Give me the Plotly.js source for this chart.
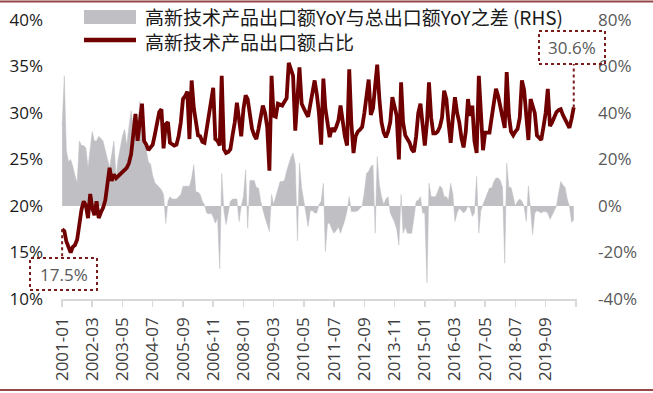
<!DOCTYPE html>
<html>
<head>
<meta charset="utf-8">
<script src="https://cdn.plot.ly/plotly-3.0.1.min.js"></script>
<style>html,body{margin:0;padding:0;background:#fff;}#chart{width:653px;height:393px;}</style>
</head>
<body>
<div id="chart"></div>
<script>
// 高新技术产品出口额占比 (%), monthly from 2001-01
const share = [
17.5,17.3,16.2,15.5,15.0,15.6,15.8,16.4,18.4,19.6,20.5,20.1,
18.7,21.3,19.8,19.0,20.5,18.7,19.3,19.8,20.6,22.5,24.1,22.7,
23.4,23.0,23.2,23.4,23.7,23.9,24.1,24.6,25.6,27.7,29.9,27.0,
28.8,31.0,27.0,26.6,26.0,26.3,26.6,27.7,29.0,30.1,30.4,26.2,
28.8,29.0,26.8,26.6,26.5,26.6,27.5,29.0,31.5,31.8,32.3,27.2,
33.5,30.5,29.0,27.6,27.5,26.9,26.8,28.3,30.0,31.6,32.7,27.2,
27.0,26.5,34.0,26.1,25.7,25.8,26.1,27.6,29.0,31.1,29.5,27.5,
30.4,31.9,31.5,30.0,28.3,27.6,27.2,28.3,29.6,30.8,30.0,28.5,
23.8,34.0,29.7,29.6,31.0,30.9,30.8,31.2,31.6,35.4,34.8,34.0,
28.1,31.5,34.9,31.0,30.4,30.0,29.6,31.0,32.2,33.5,32.0,30.0,
26.6,33.7,30.5,29.0,27.4,28.4,28.0,28.5,29.2,30.8,29.0,27.5,
26.5,34.7,29.0,25.7,27.5,28.0,28.2,28.5,30.0,31.8,33.6,29.8,
30.5,33.0,35.2,31.5,29.0,27.9,27.4,28.0,29.0,31.7,30.5,29.7,
25.0,33.3,29.0,27.6,27.2,26.8,26.1,25.8,27.5,30.0,31.0,28.2,
26.5,29.0,33.3,29.5,27.8,27.8,28.0,28.5,29.5,32.4,31.5,29.0,
26.8,29.5,31.7,30.0,29.0,27.3,26.3,28.0,31.5,29.7,30.8,27.0,
25.7,34.0,29.5,26.0,27.9,27.9,27.9,29.5,30.8,32.6,31.8,30.8,
29.5,28.4,34.4,29.7,28.0,27.6,28.0,28.3,29.5,33.5,32.5,30.0,
27.1,31.5,30.8,30.0,27.6,27.3,27.1,28.5,30.0,32.6,28.6,29.0,
29.7,30.1,30.3,30.4,29.8,29.3,28.8,28.4,29.4,30.6
];

// 高新技术产品出口额YoY与总出口额YoY之差 (%), RHS
const yoyDiff = [
35,56,24,19,20,17,13,10,28,26,26,25,
16.5,26,32,28,28,30,29,28,24,20,16.5,22,
28,12,20,25,30,33,26,34,41,34,33,33,
45,38,34,24,19,18,13,10,9,8,7,5,
-7.5,2,4,3,3,3,4,5,8.5,8.5,8.5,8.5,
12,17.8,6,6,5,2,0.5,-3,-3.4,-3,-4.7,-7.4,
-5,-27,14,-2,-8,-3,2,3,3,3,-6.7,0,
4,15.6,-9.6,11,11,11,8,7.7,2,-2,-5,-8,
-11,5,0.6,4,7.7,10.5,10.5,11,15,18.5,21,22.8,
18,-15,18.5,7.7,2,-5,-8.8,-2,-2,-3,-3,0.6,
2,9.8,-19.6,-7.4,-7.4,-10,-11.7,-10.5,-9,-11.7,-9,-6,
-2,4,-2.4,-2.4,-2.4,-2,-1,0,6,14,15,17,
17.6,-11.7,21.3,9,4,0.6,3,4,-3,-5,-7,-10,
-16.8,5,-11.7,-9,-11.7,-11.7,-11.7,-5,2,2.5,4,-3,
-3,-33,9.8,4,4,4,6,8.6,7.7,4,4,2.5,
9.8,5,-6.7,-3,-1,-2,-3,-2,0,-1,-4.5,-3,
12.7,-11.7,-2,0.6,3,6,7.7,7.7,10.5,12,12,11,
8,-24.6,18.5,8,8,4,0,2,3,2,0,-6.7,
8.6,-2,-12.3,-3,-2,-2.5,-3,-2.4,-2.5,-3,-5.7,-4,
-2,0,5.5,10.5,9,8,3,0,-7,-6
];

const startYear = 2001;
const months = share.map((_, k) => {
  const y = startYear + Math.floor(k / 12);
  const m = (k % 12) + 1;
  return y + '-' + String(m).padStart(2, '0');
});

const xTickLabels = ['2001-01','2002-03','2003-05','2004-07','2005-09','2006-11','2008-01','2009-03',
  '2010-05','2011-07','2012-09','2013-11','2015-01','2016-03','2017-05','2018-07','2019-09'];
const xTickEnd = '2020-11';
const leftTickVals = [10,15,20,25,30,35,40];
const leftTickText = ['10%','15%','20%','25%','30%','35%','40%'];
const rightTickVals = [-40,-20,0,20,40,60,80];
const rightTickText = ['-40%','-20%','0%','20%','40%','60%','80%'];

const nameDiff = '高新技术产品出口额YoY与总出口额YoY之差 (RHS)';
const nameShare = '高新技术产品出口额占比';

// layout geometry (pixels)
const W = 653, H = 393;
const M = {l: 61, r: 76, t: 20, b: 94};
const PW = W - M.l - M.r, PH = H - M.t - M.b;
const px = x => (x - M.l) / PW;
const py = y => (H - M.b - y) / PH;

const red = '#700000';
const gray = '#c0bfc4';
const boxColor = '#7a1c1c';
const borderColor = '#944848';

const traces = [
  {
    x: months, y: yoyDiff, name: nameDiff, type: 'scatter', mode: 'lines',
    fill: 'tozeroy', fillcolor: gray, line: {color: gray, width: 0.5},
    yaxis: 'y', hoverinfo: 'skip'
  },
  {
    x: months, y: share, name: nameShare, type: 'scatter', mode: 'lines',
    line: {color: red, width: 3.8}, yaxis: 'y2', hoverinfo: 'skip'
  }
];

const last = share.length - 1;
const y2FromPx = yPix => 10 + 30 * py(yPix);

const layout = {
  width: W, height: H,
  margin: M,
  paper_bgcolor: '#fff', plot_bgcolor: 'rgba(0,0,0,0)',
  showlegend: false,
  font: {family: 'Open Sans, sans-serif', size: 17, color: '#404040'},
  xaxis: {
    type: 'date',
    range: ['2000-12-16', '2020-11-16'],
    tickvals: xTickLabels.concat([xTickEnd]),
    ticktext: xTickLabels.concat(['']),
    tickangle: -90,
    ticks: 'outside', ticklen: 6, tickwidth: 1.5, tickcolor: '#d9d9d9',
    showline: true, linecolor: '#d9d9d9', linewidth: 1.5,
    showgrid: false, zeroline: false,
    tickfont: {family: 'Open Sans, sans-serif', size: 17, color: '#404040'},
    ticklabelstandoff: 4
  },
  yaxis: {
    side: 'right', range: [-40, 80],
    tickvals: rightTickVals, ticktext: rightTickText,
    showgrid: false, zeroline: false, showline: false, ticks: '',
    tickfont: {family: 'Open Sans, sans-serif', size: 17, color: '#595959'},
    ticklabelstandoff: 20
  },
  yaxis2: {
    overlaying: 'y', side: 'left', range: [10, 40],
    tickvals: leftTickVals, ticktext: leftTickText,
    showgrid: false, zeroline: false, showline: false, ticks: '',
    tickfont: {family: 'Open Sans, sans-serif', size: 17, color: '#1a1a1a'},
    ticklabelstandoff: 17
  },
  shapes: [
    // top / bottom frame lines
    {type: 'line', xref: 'paper', yref: 'paper', x0: px(0), x1: px(W), y0: py(1.5), y1: py(1.5),
     line: {color: borderColor, width: 2}},
    {type: 'line', xref: 'paper', yref: 'paper', x0: px(0), x1: px(W), y0: py(390), y1: py(390),
     line: {color: borderColor, width: 2}},
    // legend symbols
    {type: 'rect', xref: 'paper', yref: 'paper', x0: px(84), x1: px(136), y0: py(24), y1: py(10),
     fillcolor: gray, line: {width: 0}},
    {type: 'line', xref: 'paper', yref: 'paper', x0: px(84), x1: px(136), y0: py(40), y1: py(40),
     line: {color: red, width: 4.5}},
    // callout boxes
    {type: 'rect', xref: 'paper', yref: 'paper', x0: px(30), x1: px(97), y0: py(290), y1: py(258),
     line: {color: boxColor, width: 2, dash: 'dot'}, fillcolor: 'rgba(0,0,0,0)'},
    {type: 'rect', xref: 'paper', yref: 'paper', x0: px(539), x1: px(605), y0: py(64), y1: py(31),
     line: {color: boxColor, width: 2, dash: 'dot'}, fillcolor: 'rgba(0,0,0,0)'},
    // leader lines to first / last points
    {type: 'line', xref: 'x', yref: 'y2', x0: months[0], x1: months[0], y0: share[0], y1: y2FromPx(258),
     line: {color: boxColor, width: 2, dash: 'dot'}},
    {type: 'line', xref: 'x', yref: 'y2', x0: months[last], x1: months[last], y0: share[last], y1: y2FromPx(64),
     line: {color: boxColor, width: 2, dash: 'dot'}}
  ],
  annotations: [
    {xref: 'paper', yref: 'paper', x: px(143), y: py(28.5), xanchor: 'left', yanchor: 'middle',
     align: 'left', text: nameDiff + '<br>' + nameShare, showarrow: false,
     font: {family: 'Noto Sans CJK SC, sans-serif', size: 19, color: '#1a1a1a'}},
    {xref: 'paper', yref: 'paper', x: px(63.5), y: py(274), xanchor: 'center', yanchor: 'middle',
     text: share[0].toFixed(1) + '%', showarrow: false,
     font: {family: 'Open Sans, sans-serif', size: 17, color: '#595959'}},
    {xref: 'paper', yref: 'paper', x: px(572), y: py(47.5), xanchor: 'center', yanchor: 'middle',
     text: share[last].toFixed(1) + '%', showarrow: false,
     font: {family: 'Open Sans, sans-serif', size: 17, color: '#595959'}}
  ]
};

Plotly.newPlot('chart', traces, layout, {staticPlot: true, displayModeBar: false});
</script>
</body>
</html>
